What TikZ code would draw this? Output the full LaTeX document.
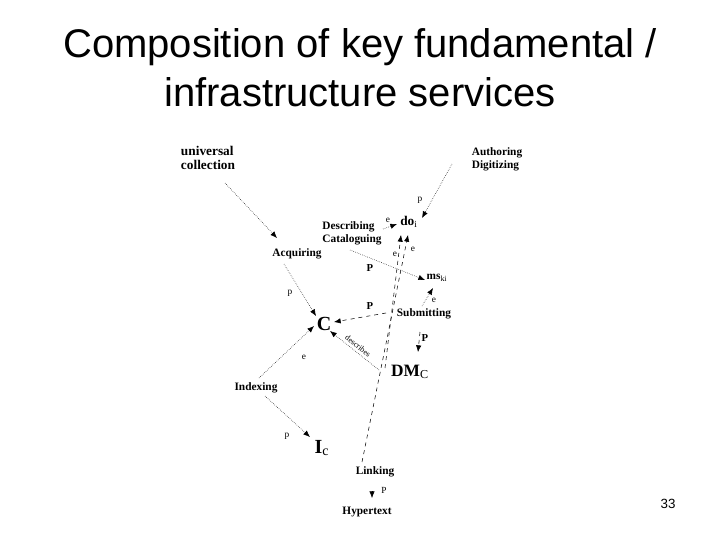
\documentclass[tikz,border=0pt]{standalone}
\usepackage{fontspec}
\setmainfont{Liberation Serif}
\newfontfamily\titlefont{Liberation Sans}
\usetikzlibrary{arrows.meta}
\begin{document}
\begin{tikzpicture}[x=0.75pt,y=-0.75pt,
 lbl/.style={font=\bfseries\fontsize{10}{11}\selectfont,align=left,inner sep=1pt},
 sm/.style={font=\fontsize{7}{8}\selectfont,inner sep=0pt},
 big/.style={font=\bfseries\fontsize{15}{16}\selectfont,inner sep=1pt},
 fl/.style={densely dotted,-{Latex[length=5pt,width=4pt]},thin},
 dl/.style={dashed,-{Latex[length=5pt,width=4pt]},thin}]
\useasboundingbox (0,0) rectangle (720,540);
\node[font=\titlefont\fontsize{30}{37}\selectfont,align=center] (title) at (360,68) {Composition of key fundamental /\\infrastructure services};
\node[lbl] (uc) at (208,158) {universal\\collection};
\node[lbl,font=\bfseries\fontsize{8.5}{9.5}\selectfont] (ad) at (497,159) {Authoring\\Digitizing};
\node[lbl] (do) at (409,222) {do$_{\mathrm i}$};
\node[lbl,font=\bfseries\fontsize{8.5}{9.5}\selectfont] (dc) at (352,233) {Describing\\Cataloguing};
\node[lbl,font=\bfseries\fontsize{8.5}{9.5}\selectfont] (aq) at (297,254) {Acquiring};
\node[lbl,font=\bfseries\fontsize{8.5}{9.5}\selectfont] (ms) at (437,278) {ms$_{\mathrm{ki}}$};
\node[lbl,font=\bfseries\fontsize{8.5}{9.5}\selectfont] (sb) at (424,314) {Submitting};
\node[big] (C) at (324,324) {C};
\node[big,font=\bfseries\fontsize{13}{14}\selectfont] (dm) at (410,372) {DM$_{\mathrm C}$};
\node[lbl,font=\bfseries\fontsize{8.5}{9.5}\selectfont] (ix) at (256,388) {Indexing};
\node[big] (ic) at (322,448) {I$_{\mathrm c}$};
\node[lbl,font=\bfseries\fontsize{8.5}{9.5}\selectfont] (lk) at (375,472) {Linking};
\node[lbl,font=\bfseries\fontsize{8.5}{9.5}\selectfont] (ht) at (367,512) {Hypertext};
\node[font=\titlefont\fontsize{10}{12}\selectfont] (pg) at (668,504) {33};
\coordinate (a1) at (225,183); \coordinate (a2) at (277,238);
\draw[fl] (a1) -- (a2);
\coordinate (b1) at (452,164); \coordinate (b2) at (422,218);
\draw[fl] (b1) -- (b2); \node[sm] (pb) at (420,200) {p};
\coordinate (c1) at (383,229); \coordinate (c2) at (397,224);
\draw[fl] (c1) -- (c2); \node[sm] (ec) at (388,220) {e};
\coordinate (d1) at (385,368); \coordinate (d2) at (401,235);
\draw[dl] (d1) -- (d2); \node[sm] (ed) at (395,254) {e};
\coordinate (e1) at (362,462); \coordinate (e2) at (408,235);
\draw[dl] (e1) -- (e2); \node[sm] (ee) at (413,249) {e};
\coordinate (f1) at (350,250); \coordinate (f2) at (425,280);
\draw[fl] (f1) -- (f2); \node[sm,font=\bfseries\fontsize{8}{9}\selectfont] (pf) at (370,268) {P};
\coordinate (g1) at (422,306); \coordinate (g2) at (433,288);
\draw[fl] (g1) -- (g2); \node[sm] (eg) at (434,300) {e};
\coordinate (h1) at (386,313); \coordinate (h2) at (334,322);
\draw[dl] (h1) -- (h2); \node[sm,font=\bfseries\fontsize{8}{9}\selectfont] (ph) at (370,306) {P};
\coordinate (i1) at (420,332); \coordinate (i2) at (418,352);
\draw[dl] (i1) -- (i2); \node[sm,font=\bfseries\fontsize{8}{9}\selectfont] (pi) at (425,338) {P};
\coordinate (j1) at (284,264); \coordinate (j2) at (316,316);
\draw[fl] (j1) -- (j2); \node[sm] (pj) at (290,293) {p};
\coordinate (k1) at (259,378); \coordinate (k2) at (314,326);
\draw[fl] (k1) -- (k2); \node[sm] (ek) at (304,357) {e};
\coordinate (l1) at (379,370); \coordinate (l2) at (330,331);
\draw[fl] (l1) -- node[sm,sloped,above=2pt,font=\fontsize{6}{7}\selectfont]{describes} (l2);
\coordinate (m1) at (265,396); \coordinate (m2) at (310,437);
\draw[fl] (m1) -- (m2); \node[sm] (pm) at (287,436) {p};
\coordinate (n1) at (372,491); \coordinate (n2) at (372,498);
\draw[-{Latex[length=5pt,width=4pt]}] (n1) -- (n2); \node[sm] (pn) at (384,490) {P};
\end{tikzpicture}
\end{document}
